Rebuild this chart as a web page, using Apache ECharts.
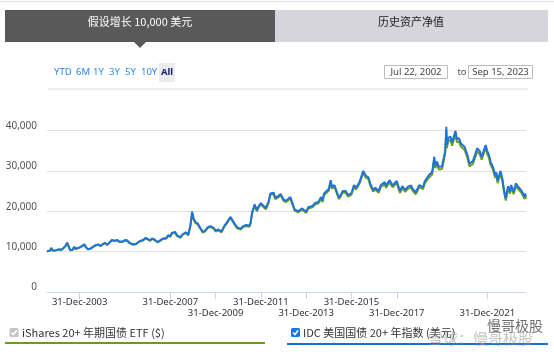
<!DOCTYPE html>
<html>
<head>
<meta charset="utf-8">
<script src="https://cdn.jsdelivr.net/npm/echarts@6/dist/echarts.min.js"></script>
<style>
html,body{margin:0;padding:0;background:#fff;}
#c{width:554px;height:352px;}
</style>
</head>
<body>
<div id="c"></div>
<script>
// ---- data ----
const startDate = "2002-07-22";
const endDate = "2023-09-15";
const tickLabels = ["31-Dec-2003","31-Dec-2005","31-Dec-2007","31-Dec-2009","31-Dec-2011","31-Dec-2013","31-Dec-2015","31-Dec-2017","31-Dec-2019","31-Dec-2021"];
const yTicks = [0, 10000, 20000, 30000, 40000];
const seriesNames = ["iShares 20+ 年期国债 ETF ($)", "IDC 美国国债 20+ 年指数 (美元)"];

const dates = [
"2002-07-22","2002-08-15","2002-09-10","2002-09-30","2002-10-15","2002-11-08","2002-11-28","2002-12-30",
"2003-01-24","2003-02-20","2003-03-20","2003-04-15","2003-05-20","2003-06-13","2003-07-01","2003-07-31","2003-08-20","2003-09-10","2003-10-01","2003-10-20","2003-11-20","2003-12-31",
"2004-01-30","2004-03-15","2004-04-10","2004-05-14","2004-06-20","2004-07-20","2004-08-30","2004-09-20","2004-10-25","2004-11-30","2004-12-31",
"2005-02-10","2005-03-20","2005-04-25","2005-06-01","2005-06-28","2005-07-20","2005-08-25","2005-09-30","2005-10-31","2005-11-20","2005-12-30",
"2006-02-01","2006-03-15","2006-05-10","2006-06-28","2006-07-20","2006-08-30","2006-10-10","2006-11-30","2006-12-31",
"2007-02-10","2007-03-10","2007-04-20","2007-06-12","2007-07-20","2007-08-25","2007-09-20","2007-10-31","2007-11-28","2007-12-31",
"2008-01-23","2008-03-17","2008-04-20","2008-06-13","2008-07-15","2008-09-10","2008-10-15","2008-11-20","2008-12-18",
"2009-01-10","2009-02-10","2009-03-18","2009-04-15","2009-06-10","2009-07-20","2009-08-30","2009-10-10","2009-11-30","2009-12-31",
"2010-02-10","2010-04-05","2010-05-25","2010-06-30","2010-08-25","2010-09-20","2010-10-30","2010-12-15",
"2011-02-08","2011-03-20","2011-05-10","2011-06-30","2011-07-20","2011-08-10","2011-09-22","2011-10-27","2011-11-30","2011-12-31",
"2012-01-31","2012-03-19","2012-04-30","2012-06-01","2012-07-24","2012-08-20","2012-09-30","2012-10-31","2012-11-15","2012-12-31",
"2013-02-10","2013-04-20","2013-05-31","2013-06-25","2013-07-10","2013-08-20","2013-09-05","2013-10-28","2013-12-31",
"2014-02-03","2014-04-10","2014-05-30","2014-07-15","2014-08-29","2014-09-20","2014-10-15","2014-12-31",
"2015-01-30","2015-02-20","2015-03-31","2015-06-10","2015-07-10","2015-08-10","2015-09-30","2015-11-06","2015-12-31",
"2016-02-10","2016-03-15","2016-05-10","2016-06-10","2016-07-08","2016-08-20","2016-09-30","2016-10-30","2016-12-15",
"2017-01-20","2017-03-14","2017-04-18","2017-06-20","2017-07-10","2017-09-07","2017-10-25","2017-12-31",
"2018-02-20","2018-03-30","2018-05-17","2018-06-29","2018-08-20","2018-09-10","2018-11-02","2018-12-31",
"2019-01-20","2019-02-28","2019-03-29","2019-05-31","2019-06-20","2019-07-25","2019-08-27","2019-09-13","2019-10-10","2019-11-08","2019-12-31",
"2020-01-31","2020-02-21","2020-03-09","2020-03-18","2020-04-09","2020-05-15","2020-06-10","2020-08-04","2020-08-28","2020-09-30","2020-10-30","2020-12-31",
"2021-02-12","2021-03-18","2021-04-05","2021-05-12","2021-06-10","2021-07-20","2021-08-30","2021-09-30","2021-10-20","2021-12-03","2021-12-31",
"2022-01-25","2022-02-20","2022-03-31","2022-05-06","2022-05-26","2022-06-14","2022-08-01","2022-08-31","2022-09-27","2022-10-24","2022-11-30","2022-12-31",
"2023-01-19","2023-02-28","2023-04-05","2023-05-15","2023-06-30","2023-07-20","2023-08-04","2023-08-22","2023-09-01","2023-09-15"
];

// IDC index (blue)
const indexValues = [
10000,10450,10300,10900,10350,10600,10250,10700,
10550,10950,10500,10700,11500,12200,11500,10350,10600,10500,11150,10650,10800,11050,
11200,11800,11100,10600,10750,11100,11500,11700,11800,11450,11750,
12200,11700,12250,12900,13100,12700,12900,12500,12200,12500,12850,
12800,12200,11800,11950,12200,12700,12800,13400,13000,
12800,13300,13000,12400,12800,13200,13000,13400,14100,13800,
14600,14900,14000,13600,14300,14800,14200,16500,19900,
18200,17300,17000,16200,14900,15300,16100,16300,15900,15200,
15500,15000,16500,17200,18600,18000,17000,16000,
15700,16300,16600,16400,17300,19600,21700,20300,21400,22000,
21800,20800,22200,24400,24600,23300,23700,23600,24300,22900,
22600,23500,21700,20500,20900,20000,19800,20700,19900,
21000,21300,22100,22300,23500,22600,24400,25500,
27700,26000,26500,23400,24000,25000,25000,24000,24500,
26500,25800,27300,27500,30000,28800,28400,26800,25300,
25800,25000,26500,27200,26300,27700,26400,27500,
25000,26200,25300,26100,26400,25600,24700,26500,
26400,26000,27500,28900,29300,29700,33500,31300,32300,31000,31100,
33500,35200,40900,36400,38200,38500,37000,39900,37900,38100,36800,35900,
34000,31800,32000,32400,33700,35600,34900,33500,33800,36400,34900,
34000,32300,31000,28900,29600,27600,30000,28000,25200,23200,26200,24900,
26500,24800,26900,26000,25200,25600,24200,23600,24400,23600
];

// iShares ETF (green)
const etfValues = [
10000,10440,10290,10880,10340,10590,10240,10680,
10530,10930,10480,10680,11470,12160,11460,10320,10570,10470,11110,10620,10760,11010,
11160,11750,11050,10550,10700,11040,11440,11630,11730,11380,11680,
12120,11620,12170,12810,13000,12600,12800,12400,12100,12400,12740,
12690,12090,11690,11830,12080,12580,12670,13270,12870,
12660,13160,12860,12260,12660,13050,12850,13250,13940,13640,
14430,14730,13830,13430,14120,14620,14020,16300,19650,
17970,17080,16780,15990,14700,15090,15880,16080,15680,14990,
15280,14780,16260,16960,18340,17750,16760,15770,
15470,16060,16360,16160,17050,19320,21400,20010,21100,21690,
21490,20500,21890,24060,24260,22970,23370,23270,23960,22580,
22270,23160,21380,20190,20590,19700,19500,20390,19590,
20670,20960,21750,21950,23130,22240,24020,25100,
27260,25590,26080,23020,23610,24600,24600,23610,24100,
26060,25370,26850,27040,29500,28320,27920,26350,24870,
25350,24560,26030,26720,25830,27200,25920,27000,
24530,25710,24820,25600,25890,25100,24210,25980,
25880,25480,26950,28320,28710,29100,32820,30660,31640,30360,30460,
32800,34460,40050,35640,37400,37690,36220,39060,37100,37290,36020,35140,
33270,31110,31310,31700,32970,34830,34140,32770,33060,35610,34130,
33250,31580,30310,28250,28930,26970,29320,27360,24620,22660,25600,24330,
25890,24230,26280,25400,24610,25000,23630,23040,23820,23040
];

// ---- helpers ----
function decYear(s) {
  const p = s.split("-").map(Number);
  const y = p[0];
  const t = Date.UTC(y, p[1] - 1, p[2]);
  const a = Date.UTC(y, 0, 1), b = Date.UTC(y + 1, 0, 1);
  return y + (t - a) / (b - a);
}
const monthIdx = {Jan:1,Feb:2,Mar:3,Apr:4,May:5,Jun:6,Jul:7,Aug:8,Sep:9,Oct:10,Nov:11,Dec:12};
function labelToDec(l) {
  const p = l.split("-");
  const m = String(monthIdx[p[1]]).padStart(2, "0");
  return decYear(p[2] + "-" + m + "-" + p[0]);
}
const tickPos = tickLabels.map(labelToDec);
const xs = dates.map(decYear);
const indexData = xs.map((x, i) => [x, indexValues[i]]);
const etfData = xs.map((x, i) => [x, etfValues[i]]);

const FONT = "'Noto Sans', 'Noto Sans CJK SC', sans-serif";
const CJK = "'Noto Sans CJK SC', 'Noto Sans', sans-serif";

function checkbox(x, y, fill) {
  return [
    {type: 'rect', shape: {x: x, y: y, width: 9, height: 9, r: 1.5}, style: {fill: fill}},
    {type: 'polyline', shape: {points: [[x + 2, y + 4.5], [x + 4, y + 6.5], [x + 7.2, y + 2.3]]},
     style: {stroke: '#fff', lineWidth: 1.6, fill: null}}
  ];
}

const graphics = [
  {type: 'rect', shape: {x: 0, y: 1, width: 554, height: 1}, style: {fill: '#e2e2e2'}},
  {type: 'rect', shape: {x: 5, y: 10, width: 270, height: 32}, style: {fill: '#595959'}},
  {type: 'polygon', shape: {points: [[134, 42], [146, 42], [140, 48]]}, style: {fill: '#595959'}},
  {type: 'text', x: 140, y: 21.5, style: {text: '假设增长 10,000 美元', fill: '#fff', font: '11px ' + CJK, align: 'center', verticalAlign: 'middle'}},
  {type: 'rect', shape: {x: 275, y: 10, width: 273, height: 32}, style: {fill: '#d6d4dc'}},
  {type: 'text', x: 411, y: 21.5, style: {text: '历史资产净值', fill: '#222', font: '11px ' + CJK, align: 'center', verticalAlign: 'middle'}},
  {type: 'rect', shape: {x: 159, y: 63, width: 16, height: 19}, style: {fill: '#ececec'}},
  {type: 'text', x: 54, y: 72, style: {text: 'YTD', fill: '#2f86e0', font: '9.5px ' + FONT, verticalAlign: 'middle'}},
  {type: 'text', x: 76, y: 72, style: {text: '6M', fill: '#2f86e0', font: '9.5px ' + FONT, verticalAlign: 'middle'}},
  {type: 'text', x: 93, y: 72, style: {text: '1Y', fill: '#2f86e0', font: '9.5px ' + FONT, verticalAlign: 'middle'}},
  {type: 'text', x: 109, y: 72, style: {text: '3Y', fill: '#2f86e0', font: '9.5px ' + FONT, verticalAlign: 'middle'}},
  {type: 'text', x: 125, y: 72, style: {text: '5Y', fill: '#2f86e0', font: '9.5px ' + FONT, verticalAlign: 'middle'}},
  {type: 'text', x: 141, y: 72, style: {text: '10Y', fill: '#2f86e0', font: '9.5px ' + FONT, verticalAlign: 'middle'}},
  {type: 'text', x: 167, y: 72, style: {text: 'All', fill: '#1a2170', font: 'bold 9.5px ' + FONT, align: 'center', verticalAlign: 'middle'}},
  {type: 'rect', shape: {x: 384.5, y: 65.5, width: 63, height: 13}, style: {fill: '#fff', stroke: '#bdbdbd', lineWidth: 1}},
  {type: 'text', x: 416, y: 72, style: {text: 'Jul 22, 2002', fill: '#444', font: '9.5px ' + FONT, align: 'center', verticalAlign: 'middle'}},
  {type: 'text', x: 462, y: 72, style: {text: 'to', fill: '#555', font: '9.5px ' + FONT, align: 'center', verticalAlign: 'middle'}},
  {type: 'rect', shape: {x: 468.5, y: 65.5, width: 64, height: 13}, style: {fill: '#fff', stroke: '#bdbdbd', lineWidth: 1}},
  {type: 'text', x: 500.5, y: 72, style: {text: 'Sep 15, 2023', fill: '#444', font: '9.5px ' + FONT, align: 'center', verticalAlign: 'middle'}},
  {type: 'rect', shape: {x: 48, y: 88.5, width: 480, height: 1}, style: {fill: '#e0e0e0'}},
  ...checkbox(9.5, 328, '#c4c4c4'),
  {type: 'text', x: 22, y: 333, style: {text: seriesNames[0], fill: '#333', font: '11px ' + CJK, verticalAlign: 'middle'}},
  {type: 'rect', shape: {x: 5, y: 342, width: 260, height: 2}, style: {fill: '#6a9a1f'}},
  ...checkbox(291, 328, '#1a73e8'),
  {type: 'text', x: 303, y: 333, style: {text: seriesNames[1], fill: '#333', font: '11px ' + CJK, verticalAlign: 'middle'}},
  {type: 'rect', shape: {x: 287, y: 343, width: 261, height: 2}, style: {fill: '#1a6fd6'}},
  {type: 'text', x: 487, y: 326, style: {text: '慢哥极股', fill: 'rgba(60,60,60,0.75)', font: '14px ' + CJK, verticalAlign: 'middle'}},
  {type: 'text', x: 428, y: 338, style: {text: '雪球：慢哥极股', fill: 'rgba(150,150,150,0.55)', font: '15px ' + CJK, verticalAlign: 'middle'}}
];

const chart = echarts.init(document.getElementById('c'), null, {renderer: 'canvas'});
chart.setOption({
  animation: false,
  textStyle: {fontFamily: FONT},
  grid: {left: 47, right: 28, top: 130.5, bottom: 60, containLabel: false},
  xAxis: {
    type: 'value',
    min: decYear(startDate),
    max: decYear(endDate),
    splitLine: {show: false},
    axisLine: {show: true, lineStyle: {color: '#ccd6eb', width: 1}},
    axisTick: {show: true, length: 7, lineStyle: {color: '#ccd6eb'}, customValues: tickPos},
    axisLabel: {
      customValues: tickPos,
      showMinLabel: true,
      showMaxLabel: true,
      hideOverlap: false,
      margin: 5,
      fontSize: 9.5,
      lineHeight: 11,
      color: '#333',
      formatter: function (v) {
        let best = 0, bd = 1e9;
        tickPos.forEach((p, i) => { const d = Math.abs(p - v); if (d < bd) { bd = d; best = i; } });
        return (best % 2 === 1 ? '\n' : '') + tickLabels[best];
      }
    }
  },
  yAxis: {
    type: 'value',
    min: 0,
    max: 40000,
    interval: 10000,
    axisLine: {show: false},
    axisTick: {show: false},
    splitLine: {show: true, lineStyle: {color: '#e0e0e0', width: 1}},
    axisLabel: {
      margin: 10,
      fontSize: 10,
      color: '#555',
      verticalAlign: 'bottom',
      lineHeight: 9,
      formatter: function (v) { return v.toLocaleString('en-US'); }
    }
  },
  series: [
    {
      name: seriesNames[0], type: 'line', data: etfData, showSymbol: false, clip: false,
      lineStyle: {color: '#6f9d1c', width: 2}, itemStyle: {color: '#6f9d1c'}, z: 2
    },
    {
      name: seriesNames[1], type: 'line', data: indexData, showSymbol: false, clip: false,
      lineStyle: {color: '#1f74d8', width: 2}, itemStyle: {color: '#1f74d8'}, z: 3
    }
  ],
  graphic: graphics
});
</script>
</body>
</html>
